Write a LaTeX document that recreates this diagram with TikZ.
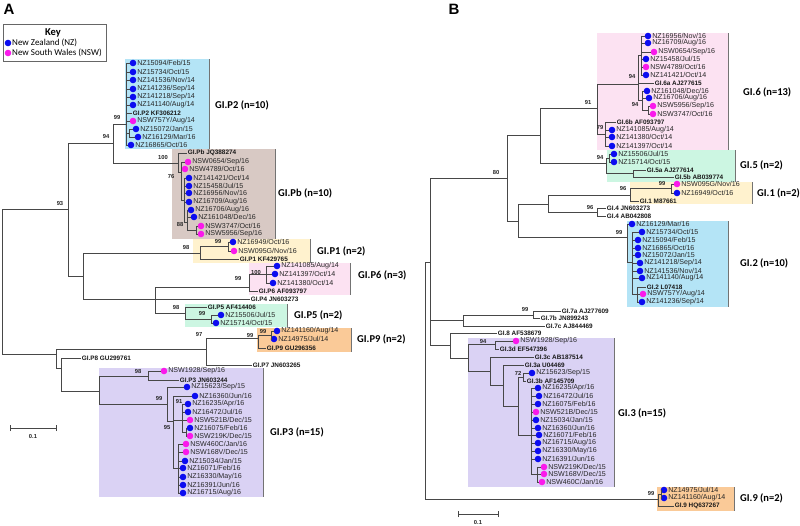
\documentclass[tikz,border=0pt]{standalone}
\usepackage{fontspec}
\setmainfont{Liberation Sans}
\newfontfamily\grpfont{Carlito}
\definecolor{nzblue}{RGB}{12,12,240}
\definecolor{nswpink}{RGB}{250,25,235}
\definecolor{cyanb}{RGB}{180,228,246}
\definecolor{brownb}{RGB}{216,201,196}
\definecolor{yellowb}{RGB}{255,242,206}
\definecolor{pinkb}{RGB}{252,226,242}
\definecolor{mintb}{RGB}{204,246,226}
\definecolor{peachb}{RGB}{250,202,152}
\definecolor{lavb}{RGB}{218,210,244}
\tikzset{
  br/.style={draw=black!72, line width=0.8pt},
  dot/.style={circle, inner sep=0pt, minimum size=6.6pt},
  lbl/.style={anchor=west, inner sep=0.6pt, font=\fontsize{7.1}{7}\selectfont, text=black!85},
  rfl/.style={anchor=west, inner sep=0.6pt, font=\bfseries\fontsize{6.4}{7}\selectfont, text=black!90},
  bs/.style={font=\bfseries\fontsize{5.8}{6}\selectfont, inner sep=0pt, text=black!85},
  grp/.style={anchor=west, inner sep=0pt, font=\grpfont\bfseries\fontsize{10.5}{12}\selectfont},
  edgeline/.style={draw=black!55, line width=0.9pt},
}
\newcommand\lnz[4]{\node[dot,fill=nzblue] (#1) at (#2,#3) {}; \node[lbl] at (#1.east) {#4};}
\newcommand\lnsw[4]{\node[dot,fill=nswpink] (#1) at (#2,#3) {}; \node[lbl] at (#1.east) {#4};}
\newcommand\lref[4]{\node[rfl] (#1) at (#2,#3) {#4};}
\newcommand\lbr[2]{\foreach \cc in {#2} {\draw[br] (#1) |- (\cc);}}
\newcommand\lbs[3]{\node[bs] at (#1,#2) {#3};}
\newcommand\lbox[5]{\fill[#1] (#2,#3) rectangle (#4,#5); \draw[edgeline] (#4,#3) -- (#4,#5);}
\begin{document}
\begin{tikzpicture}[x=1pt,y=-1pt]
\useasboundingbox (0,0) rectangle (800,525);
\fill[white] (0,0) rectangle (800,525);

% ---------------- panel letters
\node[font=\bfseries\fontsize{15}{16}\selectfont] (pA) at (9,9) {A};
\node[font=\bfseries\fontsize{15}{16}\selectfont] (pB) at (454,9) {B};

% ---------------- key
\draw[black!60, line width=0.6pt, fill=white] (3,24) rectangle (106,61);
\node[font=\grpfont\bfseries\fontsize{10.5}{12}\selectfont] (key) at (53,33) {Key};
\node[dot,fill=nzblue] (k1d) at (8,43) {};
\node[anchor=west, inner sep=0.5pt, font=\grpfont\fontsize{9}{10}\selectfont] at (k1d.east) {New Zealand (NZ)};
\node[dot,fill=nswpink] (k2d) at (8,53) {};
\node[anchor=west, inner sep=0.5pt, font=\grpfont\fontsize{9}{10}\selectfont] at (k2d.east) {New South Wales (NSW)};

% ---------------- boxes
\lbox{cyanb}{125}{59}{209}{149}
\lbox{brownb}{172}{149}{275}{239}
\lbox{yellowb}{193}{239}{310}{263}
\lbox{pinkb}{249}{263}{350}{295}
\lbox{mintb}{185}{304}{287}{327}
\lbox{peachb}{257}{328}{351}{352}
\lbox{lavb}{99}{368}{263}{497}
\lbox{pinkb}{597}{33}{728}{150}
\lbox{mintb}{607}{150}{735}{182}
\lbox{yellowb}{630}{182}{752}{204}
\lbox{cyanb}{627}{221}{728}{307}
\lbox{lavb}{468}{338}{614}{487}
\lbox{peachb}{657}{487}{734}{511}

% ================= PANEL A =================
% GI.P2
\lnz{a1}{133}{63}{NZ15094/Feb/15}
\lnz{a2}{133}{72}{NZ15734/Oct/15}
\lnz{a3}{133}{80}{NZ141536/Nov/14}
\lnz{a4}{133}{89}{NZ141236/Sep/14}
\lnz{a5}{133}{97}{NZ141218/Sep/14}
\lnz{a6}{133}{105}{NZ141140/Aug/14}
\lref{ar1}{132}{113}{GI.P2 KF306212}
\lnsw{a7}{133}{121}{NSW757Y/Aug/14}
\lnz{a8}{136}{129}{NZ15072/Jan/15}
\lnz{a9}{138}{137}{NZ16129/Mar/16}
\lnz{a10}{131}{145}{NZ16865/Oct/16}
% GI.Pb
\lref{ar2}{187}{153}{GI.Pb JQ388274}
\lnsw{b1}{188}{162}{NSW0654/Sep/16}
\lnsw{b2}{185}{169}{NSW4789/Oct/16}
\lnz{b3}{189}{178}{NZ141421/Oct/14}
\lnz{b4}{189}{186}{NZ15458/Jul/15}
\lnz{b5}{189}{193}{NZ16956/Nov/16}
\lnz{b6}{189}{202}{NZ16709/Aug/16}
\lnz{b7}{191}{210}{NZ16706/Aug/16}
\lnz{b8}{194}{217}{NZ161048/Dec/16}
\lnsw{b9}{201}{226}{NSW3747/Oct/16}
\lnsw{b10}{201}{234}{NSW5956/Sep/16}
% GI.P1
\lnz{c1}{233}{242}{NZ16949/Oct/16}
\lnsw{c2}{234}{251}{NSW095G/Nov/16}
\lref{ar3}{239}{259}{GI.P1 KF429765}
% GI.P6
\lnz{d1}{277}{266}{NZ141085/Aug/14}
\lnz{d2}{275}{274}{NZ141397/Oct/14}
\lnz{d3}{273}{283}{NZ141380/Oct/14}
\lref{ar4}{258}{291}{GI.P6 AF093797}
\lref{ar5}{250}{299.5}{GI.P4 JN603273}
% GI.P5
\lref{ar6}{207}{307}{GI.P5 AF414406}
\lnz{e1}{221}{315}{NZ15506/Jul/15}
\lnz{e2}{216}{323}{NZ15714/Oct/15}
% GI.P9 / P7
\lnz{f1}{277}{331}{NZ141160/Aug/14}
\lnz{f2}{274}{339}{NZ14975/Jul/14}
\lref{ar7}{266}{348}{GI.P9 GU296356}
\lref{ar8}{252}{365}{GI.P7 JN603265}
% GI.P8 / P3
\lref{ar9}{81}{358}{GI.P8 GU299761}
\lnsw{g1}{164}{371}{NSW1928/Sep/16}
\lref{ar10}{179}{380}{GI.P3 JN603244}
\lnz{g2}{187}{387}{NZ15623/Sep/15}
\lnz{g3}{195}{396}{NZ16360/Jun/16}
\lnz{g4}{188}{404}{NZ16235/Apr/16}
\lnz{g5}{188}{412}{NZ16472/Jul/16}
\lnsw{g6}{190}{420}{NSW521B/Dec/15}
\lnz{g7}{190}{428}{NZ16075/Feb/16}
\lnsw{g8}{190}{436}{NSW219K/Dec/15}
\lnsw{g9}{186}{444}{NSW460C/Jan/16}
\lnsw{g10}{186}{452}{NSW168V/Dec/15}
\lnz{g11}{185}{461}{NZ15034/Jan/15}
\lnz{g12}{183}{468}{NZ16071/Feb/16}
\lnz{g13}{183}{477}{NZ16330/May/16}
\lnz{g14}{183}{485}{NZ16391/Jun/16}
\lnz{g15}{183}{493}{NZ16715/Aug/16}

% internal nodes A
\coordinate (aR) at (2,281);
\coordinate (a93) at (68,209);
\coordinate (a94) at (113,143);
\coordinate (aP2) at (126,124);
\coordinate (aP2s) at (129,133);
\coordinate (aPb) at (178,163);
\coordinate (aPb2) at (181,172);
\coordinate (a76) at (184,200);
\coordinate (a88) at (187,222);
\coordinate (aS) at (196,230);
\coordinate (a83) at (83,276);
\coordinate (aP1) at (200,253);
\coordinate (aP1s) at (228,246);
\coordinate (a155) at (155,299);
\coordinate (aP6) at (249,287);
\coordinate (aP6s) at (266,274);
\coordinate (aP5) at (185,313);
\coordinate (aP5s) at (211,319);
\coordinate (aL) at (56,354);
\coordinate (aP97) at (206,349);
\coordinate (aP9) at (258,338);
\coordinate (aP9s) at (271,335);
\coordinate (aL2) at (61,368);
\coordinate (aP3) at (99,391);
\coordinate (a98) at (148,376);
\coordinate (a99) at (167,404);
\coordinate (a95) at (173,421);
\coordinate (a91) at (182,420);
\coordinate (a91s) at (186,432);
\coordinate (aLow) at (178,468);

\lbr{aR}{a93,aL}
\lbr{a93}{a94,a83}
\lbr{a94}{aP2,aPb}
\lbr{aP2}{a1,a2,a3,a4,a5,a6,ar1,a7,aP2s,a10}
\lbr{aP2s}{a8,a9}
\lbr{aPb}{ar2,aPb2}
\lbr{aPb2}{b1,b2,a76}
\lbr{a76}{b3,b4,b5,b6,a88}
\lbr{a88}{b7,b8,aS}
\lbr{aS}{b9,b10}
\lbr{a83}{aP1,a155}
\lbr{aP1}{aP1s,ar3}
\lbr{aP1s}{c1,c2}
\lbr{a155}{aP6,ar5,aP5}
\lbr{aP6}{aP6s,ar4}
\lbr{aP6s}{d1,d2,d3}
\lbr{aP5}{ar6,aP5s}
\lbr{aP5s}{e1,e2}
\lbr{aL}{aP97,aL2}
\lbr{aP97}{aP9,ar8}
\lbr{aP9}{aP9s,ar7}
\lbr{aP9s}{f1,f2}
\lbr{aL2}{ar9,aP3}
\lbr{aP3}{a98,a99}
\lbr{a98}{g1,ar10}
\lbr{a99}{g2,a95}
\lbr{a95}{g3,a91,aLow}
\lbr{a91}{g4,g5,g6,a91s}
\lbr{a91s}{g7,g8}
\lbr{aLow}{g9,g10,g11,g12,g13,g14,g15}

% bootstrap A
\lbs{117}{118}{99} \lbs{106}{137}{94} \lbs{60}{204}{93}
\lbs{163}{158}{100} \lbs{171}{176}{76} \lbs{180}{224}{88}
\lbs{218}{241}{99} \lbs{186}{247}{98} \lbs{256}{272}{100}
\lbs{238}{278}{99} \lbs{176}{307}{98} \lbs{202}{313}{99}
\lbs{199}{334}{97} \lbs{250}{335}{99} \lbs{263}{331}{99}
\lbs{138}{371}{98} \lbs{159}{398}{99} \lbs{179}{401}{91}
\lbs{167}{427}{95}

% group labels A
\node[grp] (lP2) at (215,105) {GI.P2 (n=10)};
\node[grp] (lPb) at (278,193) {GI.Pb (n=10)};
\node[grp] (lP1) at (317,251) {GI.P1 (n=2)};
\node[grp] (lP6) at (358,275) {GI.P6 (n=3)};
\node[grp] (lP5) at (294,315) {GI.P5 (n=2)};
\node[grp] (lP9) at (357,339) {GI.P9 (n=2)};
\node[grp] (lP3) at (270,432) {GI.P3 (n=15)};

% scale A
\coordinate (sa1) at (10,428); \coordinate (sa2) at (56,428);
\draw[br] (sa1) -- (sa2);
\draw[br] ([yshift=-3]sa1) -- ([yshift=3]sa1);
\draw[br] ([yshift=-3]sa2) -- ([yshift=3]sa2);
\node[bs] (sA) at (33,436) {0.1};

% ================= PANEL B =================
% GI.6
\lnz{h1}{648}{36}{NZ16956/Nov/16}
\lnz{h2}{648}{43}{NZ16709/Aug/16}
\lnsw{h3}{654}{52}{NSW0654/Sep/16}
\lnz{h4}{646}{59}{NZ15458/Jul/15}
\lnsw{h5}{646}{67}{NSW4789/Oct/16}
\lnz{h6}{646}{75}{NZ141421/Oct/14}
\lref{br1}{654}{83}{GI.6a AJ277615}
\lnz{h7}{647}{91}{NZ161048/Dec/16}
\lnz{h8}{649}{98}{NZ16706/Aug/16}
\lnsw{h9}{653}{106}{NSW5956/Sep/16}
\lnsw{h10}{653}{114}{NSW3747/Oct/16}
\lref{br2}{616}{122}{GI.6b AF093797}
\lnz{h11}{612}{130}{NZ141085/Aug/14}
\lnz{h12}{612}{137}{NZ141380/Oct/14}
\lnz{h13}{612}{146}{NZ141397/Oct/14}
% GI.5
\lnz{i1}{614}{154}{NZ15506/Jul/15}
\lnz{i2}{614}{162}{NZ15714/Oct/15}
\lref{br3}{646}{170}{GI.5a AJ277614}
\lref{br4}{674}{177}{GI.5b AB039774}
% GI.1 / GI.4
\lnsw{j1}{677}{184}{NSW095G/Nov/16}
\lnz{j2}{677}{193}{NZ16949/Oct/16}
\lref{br5}{639}{201}{GI.1 M87661}
\lref{br6}{606}{208}{GI.4 JN603273}
\lref{br7}{606}{216}{GI.4 AB042808}
% GI.2
\lnz{k1}{632}{224}{NZ16129/Mar/16}
\lnz{k2}{642}{232}{NZ15734/Oct/15}
\lnz{k3}{638}{240}{NZ15094/Feb/15}
\lnz{k4}{638}{248}{NZ16865/Oct/16}
\lnz{k5}{638}{255}{NZ15072/Jan/15}
\lnz{k6}{640}{263}{NZ141218/Sep/14}
\lnz{k7}{640}{271}{NZ141536/Nov/14}
\lnz{k8}{642}{278}{NZ141140/Aug/14}
\lref{br8}{646}{287}{GI.2 L07418}
\lnsw{k9}{643}{294}{NSW757Y/Aug/14}
\lnz{k10}{642}{302}{NZ141236/Sep/14}
% GI.7 / GI.8
\lref{br9}{561}{311}{GI.7a AJ277609}
\lref{br10}{540}{318}{GI.7b JN899243}
\lref{br11}{545}{326}{GI.7c AJ844469}
\lref{br12}{497}{333}{GI.8 AF538679}
% GI.3
\lnsw{l1}{516}{341}{NSW1928/Sep/16}
\lref{br13}{499}{349}{GI.3d EF547396}
\lref{br14}{534}{357}{GI.3c AB187514}
\lref{br15}{524}{365}{GI.3a U04469}
\lnz{m1}{532}{373}{NZ15623/Sep/15}
\lref{br16}{526}{381}{GI.3b AF145709}
\lnz{m2}{538}{388}{NZ16235/Apr/16}
\lnz{m3}{539}{396}{NZ16472/Jul/16}
\lnz{m4}{538}{404}{NZ16075/Feb/16}
\lnsw{m5}{536}{412}{NSW521B/Dec/15}
\lnz{m6}{536}{420}{NZ15034/Jan/15}
\lnz{m7}{538}{428}{NZ16360/Jun/16}
\lnz{m8}{539}{435}{NZ16071/Feb/16}
\lnz{m9}{538}{443}{NZ16715/Aug/16}
\lnz{m10}{538}{451}{NZ16330/May/16}
\lnz{m11}{538}{459}{NZ16391/Jun/16}
\lnsw{m12}{544}{467}{NSW219K/Dec/15}
\lnsw{m13}{544}{474}{NSW168V/Dec/15}
\lnsw{m14}{542}{482}{NSW460C/Jan/16}
% GI.9
\lnz{o1}{664}{490}{NZ14975/Jul/14}
\lnz{o2}{664}{498}{NZ141160/Aug/14}
\lref{br17}{674}{506}{GI.9 HQ637267}

% internal nodes B
\coordinate (bR) at (425,380);
\coordinate (b430) at (430,262);
\coordinate (b80) at (507,178);
\coordinate (b540) at (540,135);
\coordinate (b91) at (597,108);
\coordinate (b6a) at (638,84);
\coordinate (b6top) at (641,55);
\coordinate (b6bot) at (642,100);
\coordinate (b6s) at (648,110);
\coordinate (b79) at (605,134);
\coordinate (bG5) at (606,163);
\coordinate (bG5s) at (609,158);
\coordinate (bG5ab) at (633,173);
\coordinate (b518) at (518,221);
\coordinate (b548) at (548,204);
\coordinate (bG1) at (630,195);
\coordinate (bG1s) at (671,188);
\coordinate (bG4) at (597,212);
\coordinate (bG2) at (627,237);
\coordinate (bG2b) at (632,262);
\coordinate (bG2c) at (637,294);
\coordinate (b7) at (463,320);
\coordinate (b7ab) at (533,315);
\coordinate (b8) at (450,345);
\coordinate (bG3) at (468,358);
\coordinate (b94G3) at (495,344);
\coordinate (bX3) at (490,371);
\coordinate (bX4) at (503,385);
\coordinate (bX5) at (518,406);
\coordinate (b72) at (523,377);
\coordinate (bBig) at (531,435);
\coordinate (bBigs) at (537,474);
\coordinate (bG9) at (658,499);
\coordinate (bG9s) at (661,494);

\lbr{bR}{b430,bG9}
\lbr{b430}{b80,b7,b8}
\lbr{b80}{b540,b518}
\lbr{b540}{b91,bG5}
\lbr{b91}{b6a,b79}
\lbr{b6a}{b6top,br1,b6bot}
\lbr{b6top}{h1,h2,h3,h4,h5,h6}
\lbr{b6bot}{h7,h8,b6s}
\lbr{b6s}{h9,h10}
\lbr{b79}{br2,h11,h12,h13}
\lbr{bG5}{bG5s,bG5ab}
\lbr{bG5s}{i1,i2}
\lbr{bG5ab}{br3,br4}
\lbr{b518}{b548,bG2}
\lbr{b548}{bG1,bG4}
\lbr{bG1}{bG1s,br5}
\lbr{bG1s}{j1,j2}
\lbr{bG4}{br6,br7}
\lbr{bG2}{k1,bG2b}
\lbr{bG2b}{k2,k3,k4,k5,k6,k7,k8,bG2c}
\lbr{bG2c}{br8,k9,k10}
\lbr{b7}{b7ab,br11}
\lbr{b7ab}{br9,br10}
\lbr{b8}{br12,bG3}
\lbr{bG3}{b94G3,bX3}
\lbr{b94G3}{l1,br13}
\lbr{bX3}{br14,bX4}
\lbr{bX4}{br15,bX5}
\lbr{bX5}{b72,bBig}
\lbr{b72}{m1,br16}
\lbr{bBig}{m2,m3,m4,m5,m6,m7,m8,m9,m10,m11,bBigs}
\lbr{bBigs}{m12,m13,m14}
\lbr{bG9}{bG9s,br17}
\lbr{bG9s}{o1,o2}

% bootstrap B
\lbs{496}{172}{80} \lbs{588}{103}{91} \lbs{632}{77}{94}
\lbs{635}{105}{94} \lbs{600}{128}{79} \lbs{600}{158}{94}
\lbs{623}{189}{96} \lbs{662}{183}{99} \lbs{590}{207}{96}
\lbs{619}{232}{99} \lbs{525}{309}{99} \lbs{483}{341}{94}
\lbs{518}{373}{72} \lbs{651}{493}{99}

% group labels B
\node[grp] (l6) at (743,92) {GI.6 (n=13)};
\node[grp] (l5) at (740,165) {GI.5 (n=2)};
\node[grp] (l1) at (757,193) {GI.1 (n=2)};
\node[grp] (l2) at (740,263) {GI.2 (n=10)};
\node[grp] (l3) at (618,413) {GI.3 (n=15)};
\node[grp] (l9) at (740,498) {GI.9 (n=2)};

% scale B
\coordinate (sb1) at (458,514); \coordinate (sb2) at (498,514);
\draw[br] (sb1) -- (sb2);
\draw[br] ([yshift=-3]sb1) -- ([yshift=3]sb1);
\draw[br] ([yshift=-3]sb2) -- ([yshift=3]sb2);
\node[bs] (sB) at (478,522) {0.1};
\end{tikzpicture}
\end{document}
